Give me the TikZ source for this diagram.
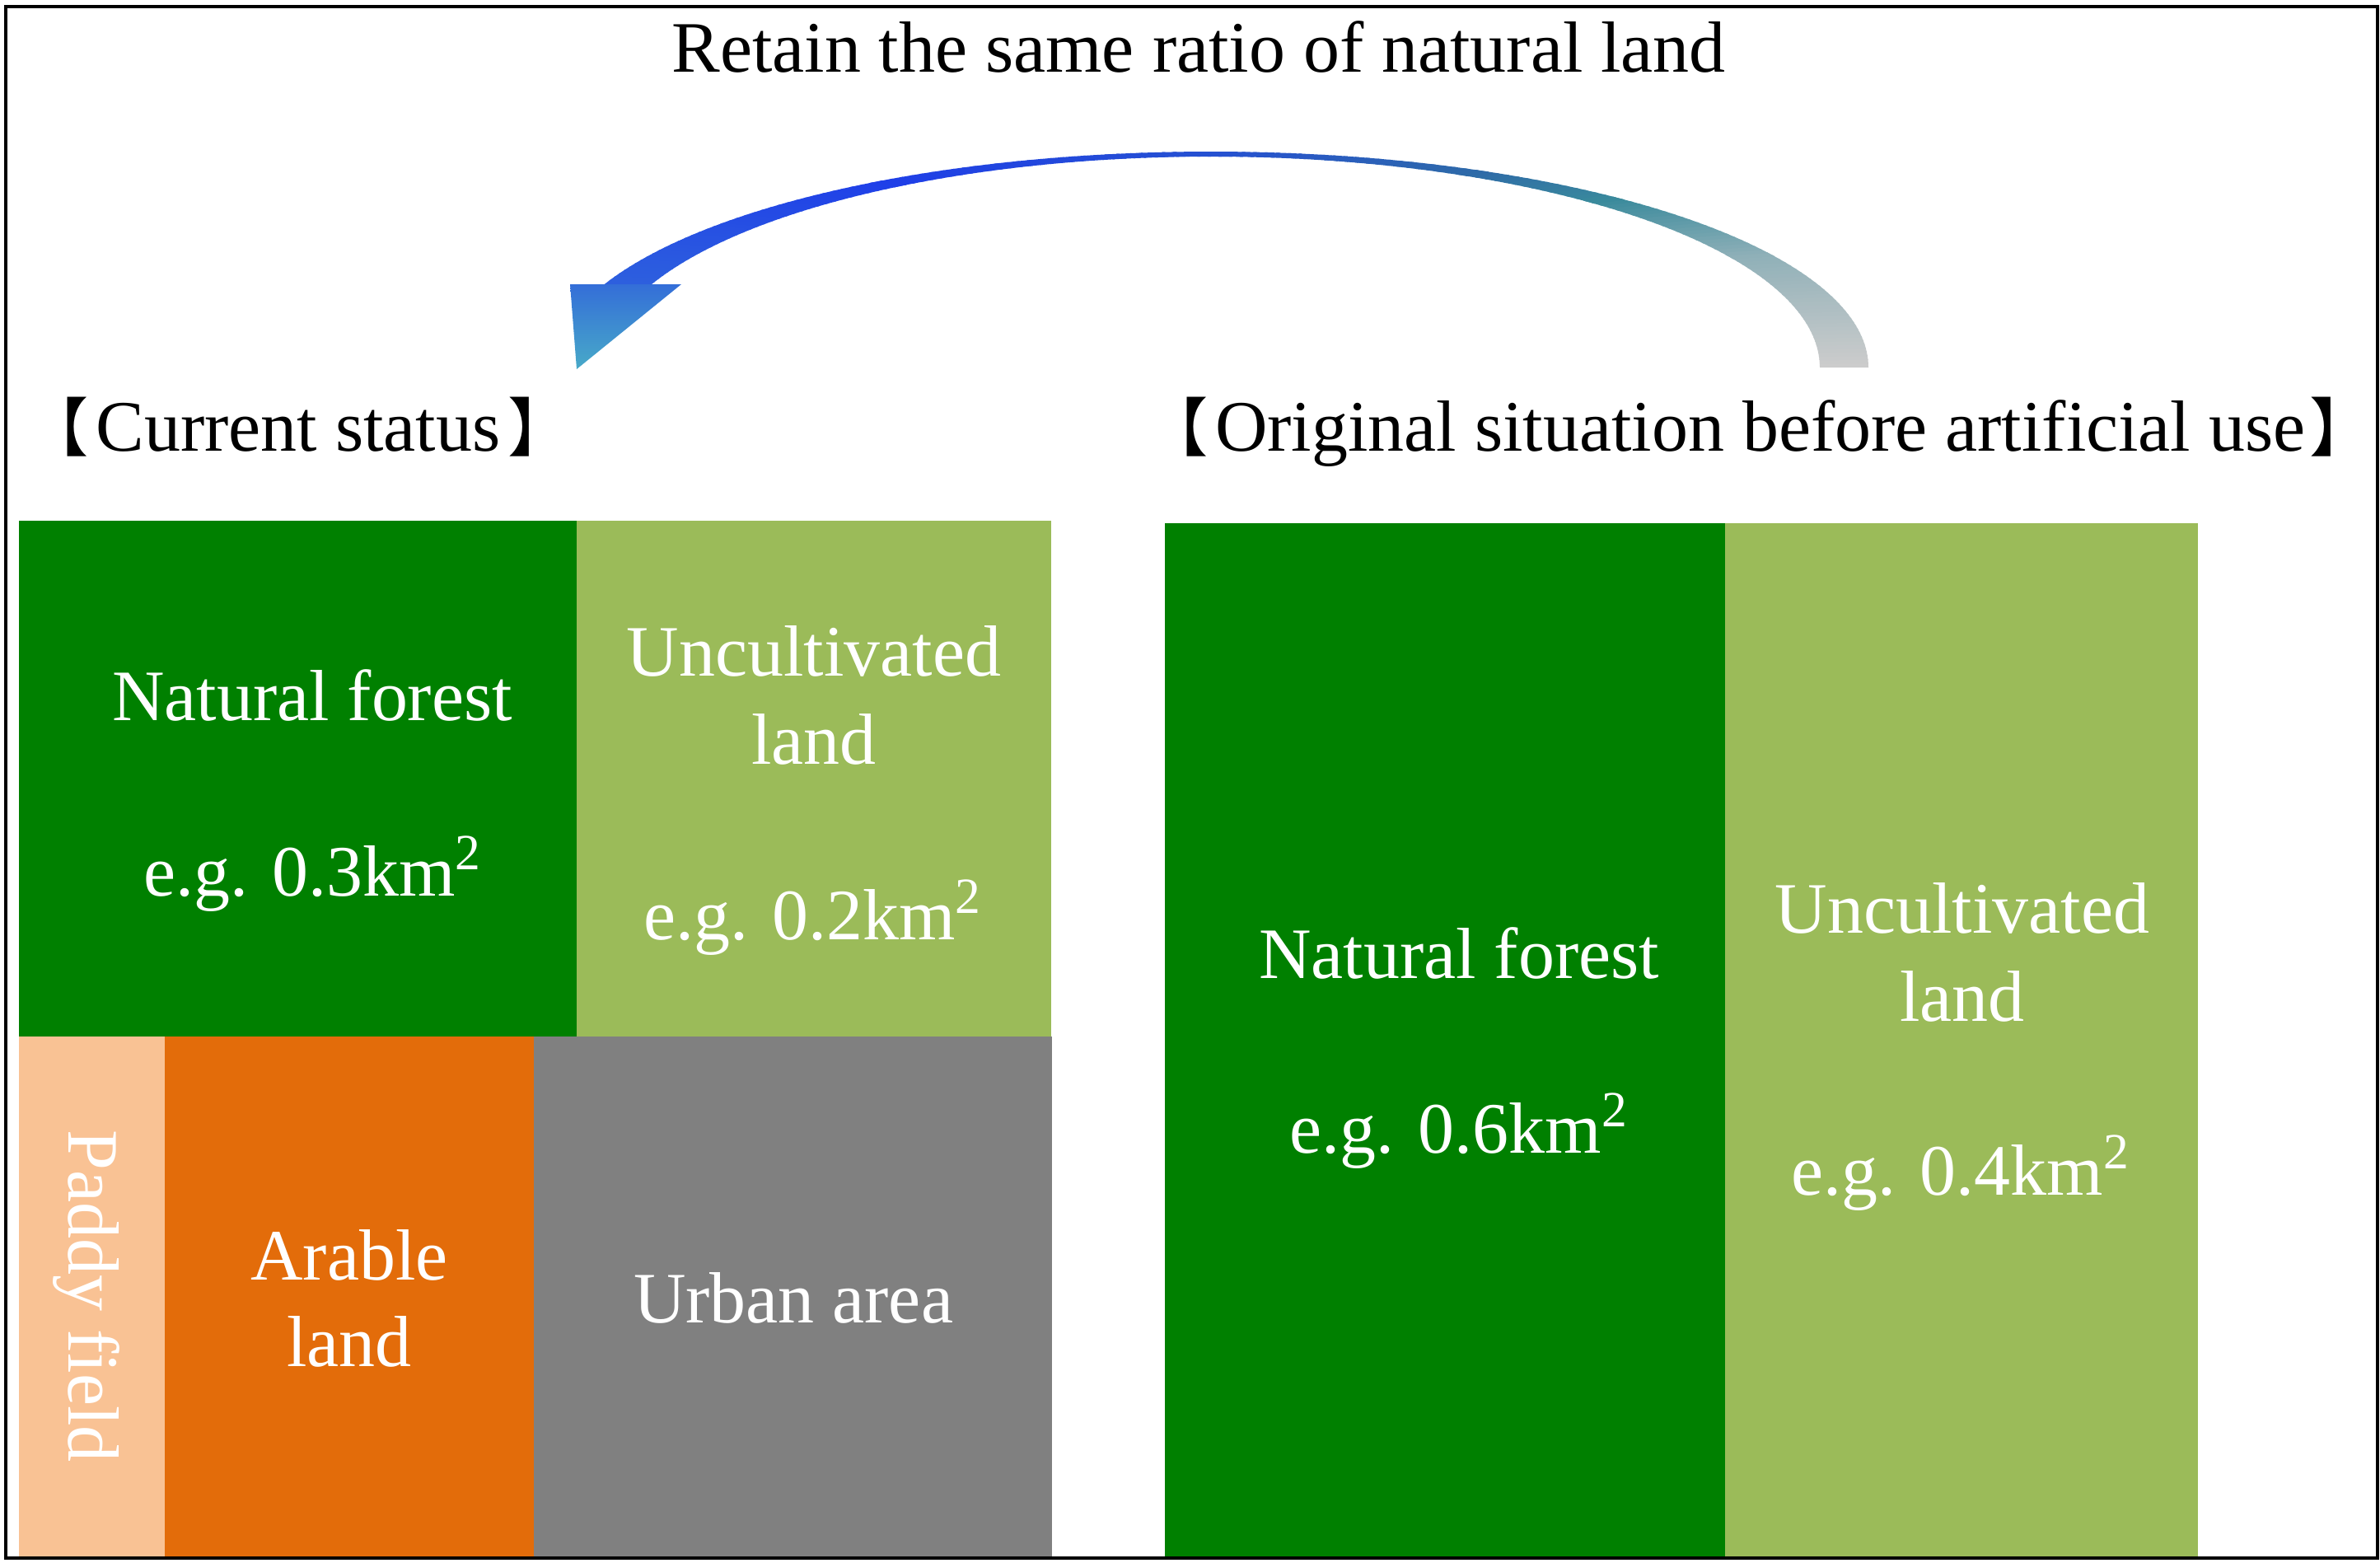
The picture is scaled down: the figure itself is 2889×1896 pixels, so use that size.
\documentclass[tikz,border=0pt]{standalone}
\usepackage{fontspec}
\setmainfont{Liberation Serif}
\newfontfamily\cjk{Noto Sans CJK SC}
\definecolor{dgreen}{RGB}{0,128,0}
\definecolor{lgreen}{RGB}{155,187,89}
\definecolor{paddy}{RGB}{249,194,148}
\definecolor{arable}{RGB}{227,108,10}
\definecolor{urban}{RGB}{128,128,128}
\definecolor{ag0}{RGB}{204,204,204}
\definecolor{ag1}{RGB}{143,176,184}
\definecolor{ag2}{RGB}{58,138,156}
\definecolor{ag3}{RGB}{46,106,168}
\definecolor{ag4}{RGB}{38,82,208}
\definecolor{ag5}{RGB}{31,63,232}
\definecolor{ag6}{RGB}{45,95,222}
\definecolor{headtop}{RGB}{52,110,216}
\definecolor{headbot}{RGB}{72,170,200}
\newcommand\mylbr{\makebox[0.4em][r]{\cjk\fontsize{22}{30}\selectfont 【}\kern2.5pt}
\newcommand\myrbr{\kern2.5pt\makebox[0.4em][l]{\cjk\fontsize{22}{30}\selectfont 】}}
\newcommand\myrbrs{\kern1.5pt\makebox[0.4em][l]{\cjk\fontsize{22}{30}\selectfont 】}}
\begin{document}
\begin{tikzpicture}[x=0.01cm,y=-0.01cm,
  lbl/.style={text=white,font=\fontsize{25}{30}\selectfont,inner sep=0pt,anchor=base},
  hd/.style={text=black,font=\fontsize{25}{30}\selectfont,inner sep=0pt,anchor=base}]
\useasboundingbox (0,0) rectangle (2889,1896);
\fill[white] (0,0) rectangle (2889,1896);
% left blocks
\fill[dgreen] (23,632) rectangle (700,1258);
\fill[lgreen] (700,632) rectangle (1276,1258);
\fill[paddy] (23,1258) rectangle (200,1889);
\fill[arable] (200,1258) rectangle (648,1889);
\fill[urban] (648,1258) rectangle (1277,1889);
% right blocks
\fill[dgreen] (1414,635) rectangle (2094,1889);
\fill[lgreen] (2094,635) rectangle (2668,1889);
% labels left
\node[lbl] (nf1) at (379,874) {Natural forest};
\node[lbl] (nf2) at (380,1087) {e.g. 0.3km\textsuperscript{2}};
\node[lbl] (ul1) at (988,820) {Uncultivated};
\node[lbl] (ul2) at (988,927) {land};
\node[lbl] (ul3) at (987,1140) {e.g. 0.2km\textsuperscript{2}};
\node[lbl,rotate=-90] (pf) at (83,1573) {Paddy field};
\node[lbl] (ar1) at (424,1553) {Arable};
\node[lbl] (ar2) at (424,1658) {land};
\node[lbl] (ua) at (963,1605) {Urban area};
% labels right
\node[lbl] (rnf1) at (1771,1187) {Natural forest};
\node[lbl] (rnf2) at (1771,1399) {e.g. 0.6km\textsuperscript{2}};
\node[lbl] (rul1) at (2382,1132) {Uncultivated};
\node[lbl] (rul2) at (2382,1239) {land};
\node[lbl] (rul3) at (2380,1450) {e.g. 0.4km\textsuperscript{2}};
% headings
\node[hd] (title) at (1455,87) {Retain the same ratio of natural land};
\node[hd] (cur) at (362,547) {\mylbr Current status\myrbr};
\node[hd] (orig) at (2135,547) {\mylbr Original situation before artificial use\myrbrs};
% curved arrow shaft
\foreach \ta/\tb/\ca/\cb in {0/31/ag0/ag1,31/51/ag1/ag2,51/65/ag2/ag3,65/88/ag3/ag4,88/120/ag4/ag5,120/156/ag5/ag6}{
  \foreach \t in {\ta,...,\tb}{
    \pgfmathsetmacro\p{(\t-\ta)/(\tb-\ta)*100}
    \pgfmathsetmacro\u{\t+1.3}
    \colorlet{cc}{\cb!\p!\ca}
    \fill[cc] ({1470+798*cos(\t)},{446-262*sin(\t)}) -- ({1470+798*cos(\u)},{446-262*sin(\u)})
      -- ({1470+739*cos(\u)},{446-256*sin(\u)}) -- ({1470+739*cos(\t)},{446-256*sin(\t)}) -- cycle;
  }
}
% arrow head
\shade[top color=headtop,bottom color=headbot] (692,345) -- (827,345) -- (700,448) -- cycle;
% frame
\draw[line width=0.04cm] (7,8) rectangle (2886,1891);
\end{tikzpicture}
\end{document}
